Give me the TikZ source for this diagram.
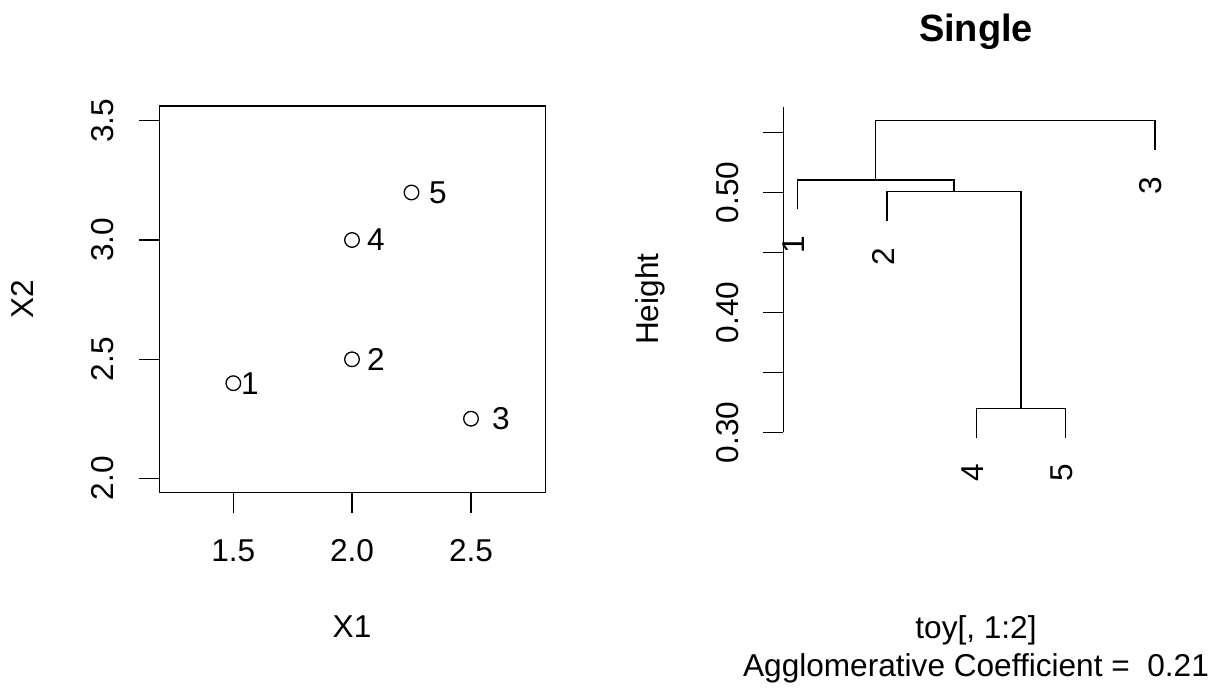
\documentclass[tikz,border=0pt]{standalone}
\usepackage{fontspec}
\setmainfont{Liberation Sans}
\begin{document}
\begin{tikzpicture}[x=0.5pt,y=-0.5pt,line width=0.65pt,
  every node/.style={inner sep=0pt,font=\fontsize{15.8}{19}\selectfont},
  ptmark/.style={circle,draw,line width=0.65pt,minimum size=7.3pt,inner sep=0pt},
  ptlbl/.style={anchor=center},
  hlbl/.style={anchor=base},
  vlbl/.style={rotate=90,anchor=base},
  leaflbl/.style={rotate=90,anchor=east},
  plotline/.style={line width=0.65pt,line cap=butt}]
\useasboundingbox (0,0) rectangle (1215,688);

% ---------------- left panel: scatter plot ----------------
\draw[plotline] (159.3,106) rectangle (545.3,492.7);
% y ticks
\foreach \yy/\tl in {120.7/3.5,240/3.0,359.3/2.5,478.3/2.0}{
  \draw[plotline] (159.3,\yy) -- (139.3,\yy);
  \node[vlbl] (ly\tl) at (113,\yy) {\tl};
}
% x ticks
\foreach \xx/\tl in {233.3/1.5,352/2.0,471/2.5}{
  \draw[plotline] (\xx,492.7) -- (\xx,512.7);
  \node[hlbl] (lx\tl) at (\xx,561.7) {\tl};
}
\node[hlbl] (xlab) at (352,638) {X1};
\node[vlbl] (ylab) at (33,299.3) {X2};

% points
\node[ptmark] (p1) at (233.3,383.2) {};
\node[ptmark] (p2) at (352,359.3) {};
\node[ptmark] (p3) at (471,418.7) {};
\node[ptmark] (p4) at (352,240) {};
\node[ptmark] (p5) at (411.5,192.5) {};
\node[ptlbl] (t1) at (250,383.2) {1};
\node[ptlbl] (t2) at (376,359.3) {2};
\node[ptlbl] (t3) at (501,418.7) {3};
\node[ptlbl] (t4) at (376,240) {4};
\node[ptlbl] (t5) at (438,192.5) {5};

% ---------------- right panel: dendrogram ----------------
\node[hlbl,font=\bfseries\fontsize{19}{23}\selectfont] (title) at (976,41.7) {Single};
\draw[plotline] (783.3,106.7) -- (783.3,432.3);
\foreach \yy in {432.3,372.3,312.3,252.3,192.3,132.3}{
  \draw[plotline] (783.3,\yy) -- (763.3,\yy);
}
\node[vlbl] (h30) at (738.3,432.3) {0.30};
\node[vlbl] (h40) at (738.3,312.3) {0.40};
\node[vlbl] (h50) at (738.3,192.3) {0.50};
\node[vlbl] (hlab) at (658,299.3) {Height};

% merges
\draw[plotline] (976.3,437.7) -- (976.3,408.3) -- (1065.7,408.3) -- (1065.7,437.7);
\draw[plotline] (887,221.1) -- (887,191.7) -- (1021,191.7) -- (1021,408.3);
\draw[plotline] (797.3,209.4) -- (797.3,180) -- (954,180) -- (954,191.7);
\draw[plotline] (875.65,180) -- (875.65,120.7) -- (1155,120.7) -- (1155,150.1);

% leaf labels
\node[leaflbl] (leaf1) at (793.3,235.4) {1};
\node[leaflbl] (leaf2) at (883,247) {2};
\node[leaflbl] (leaf3) at (1151,176) {3};
\node[leaflbl] (leaf4) at (972.3,463.7) {4};
\node[leaflbl] (leaf5) at (1061.7,463.7) {5};

\node[hlbl] (sub1) at (976,639) {toy[, 1:2]};
\node[hlbl] (sub2) at (976,677) {Agglomerative Coefficient = \ 0.21};
\end{tikzpicture}
\end{document}
